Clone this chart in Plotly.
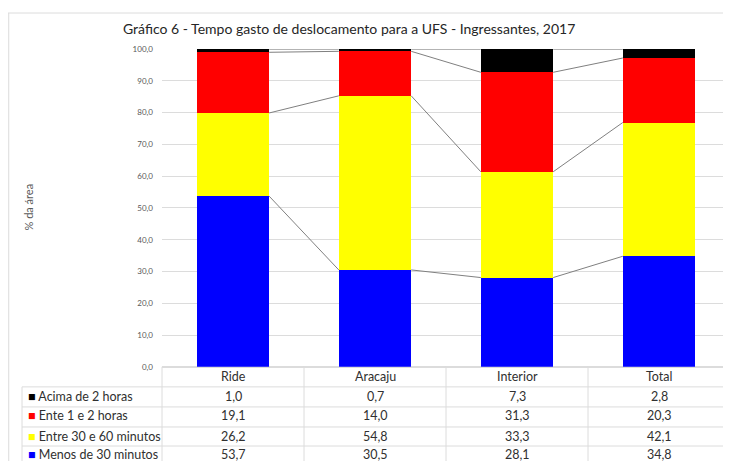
import plotly.graph_objects as go

# the page puts the figure 8px in from the left, ~13px down, and the capture squeezes y by ~0.976
OFF_X, OFF_Y, SY = 8, 13.3, 0.976
W, H = 731 - OFF_X, 460

categories = ["Ride", "Aracaju", "Interior", "Total"]
series_names = ["Menos de 30 minutos", "Entre 30 e 60 minutos", "Ente 1 e 2 horas", "Acima de 2 horas"]
menos_30 = [53.7, 30.5, 28.1, 34.8]
entre_30_60 = [26.2, 54.8, 33.3, 42.1]
entre_1_2h = [19.1, 14.0, 31.3, 20.3]
acima_2h = [1.0, 0.7, 7.3, 2.8]
series_values = [menos_30, entre_30_60, entre_1_2h, acima_2h]
colors = ["#0000FF", "#FFFF00", "#FF0000", "#000000"]

bar_w = 0.51
x_idx = list(range(len(categories)))

fig = go.Figure()
for name, vals, c in zip(series_names, series_values, colors):
    fig.add_trace(go.Bar(x=x_idx, y=vals, name=name, width=bar_w,
                         marker=dict(color=c, line=dict(width=0)), showlegend=False))

# series lines between the bars (Excel style)
cum = [0.0] * len(categories)
for vals in series_values:
    cum = [a + b for a, b in zip(cum, vals)]
    for i in range(len(categories) - 1):
        fig.add_trace(go.Scatter(x=[i + bar_w / 2, i + 1 - bar_w / 2], y=[cum[i], cum[i + 1]],
                                 mode="lines", line=dict(color="#808080", width=1),
                                 showlegend=False, hoverinfo="skip"))


def px(x):
    return min(max((x - OFF_X) / W, 0), 1)


def py(y):
    return min(max(1 - (y / SY - OFF_Y) / H, 0), 1)


GRID = "#dcdcdc"
font = "Lato, 'Open Sans', sans-serif"
shapes = []
annotations = []

# outer frame
shapes.append(dict(type="line", xref="paper", yref="paper", x0=0, x1=1, y0=py(13), y1=py(13),
                   line=dict(color=GRID, width=1)))
shapes.append(dict(type="line", xref="paper", yref="paper", x0=0.001, x1=0.001, y0=py(13), y1=0,
                   line=dict(color=GRID, width=1)))

# data table lines
col_edges = [162, 304, 446, 588, 730]
for xe in col_edges:
    shapes.append(dict(type="line", xref="paper", yref="paper", x0=px(xe), x1=px(xe), y0=py(366), y1=0,
                       line=dict(color=GRID, width=1)))
shapes.append(dict(type="line", xref="paper", yref="paper", x0=px(22), x1=px(22), y0=py(386), y1=0,
                   line=dict(color=GRID, width=1)))
for ye in [386, 406, 426, 445]:
    shapes.append(dict(type="line", xref="paper", yref="paper", x0=px(22), x1=px(730), y0=py(ye), y1=py(ye),
                       line=dict(color=GRID, width=1)))

tfont = dict(family=font, size=12.5, color="#303030")
for i, cat in enumerate(categories):
    annotations.append(dict(x=i, xref="x", y=py(376), yref="paper", text=cat, showarrow=False,
                            font=tfont, xanchor="center", yanchor="middle"))

row_order = [3, 2, 1, 0]
row_y = [395.5, 415, 435.5, 453]
for r, yy in zip(row_order, row_y):
    annotations.append(dict(x=px(26), xref="paper", y=py(yy), yref="paper",
                            text=f"<span style='color:{colors[r]}'>■</span> {series_names[r]}",
                            showarrow=False, font=tfont, xanchor="left", yanchor="middle"))
    for i, v in enumerate(series_values[r]):
        annotations.append(dict(x=i, xref="x", y=py(yy), yref="paper", text=f"{v:.1f}".replace(".", ","),
                                showarrow=False, font=tfont, xanchor="center", yanchor="middle"))

# title and y-axis title
annotations.append(dict(x=px(349), xref="paper", y=py(28), yref="paper",
                        text="Gráfico 6 - Tempo gasto de deslocamento para a UFS - Ingressantes, 2017",
                        showarrow=False, font=dict(family=font, size=14, color="#262626"),
                        xanchor="center", yanchor="middle"))
annotations.append(dict(x=px(28), xref="paper", y=py(207), yref="paper", text="% da área", textangle=-90,
                        showarrow=False, font=dict(family=font, size=11, color="#595959"),
                        xanchor="center", yanchor="middle"))

fig.update_layout(
    width=W, height=H,
    margin=dict(l=0, r=0, t=0, b=0),
    paper_bgcolor="white", plot_bgcolor="white",
    barmode="stack", separators=",.",
    shapes=shapes, annotations=annotations,
    xaxis=dict(domain=[px(162), px(730)], range=[-0.5, 3.5], showticklabels=False,
               showgrid=False, zeroline=False, fixedrange=True),
    yaxis=dict(domain=[py(366), py(49)], range=[0, 100], dtick=10, tickformat=".1f",
               showgrid=True, gridcolor=GRID, gridwidth=1, zeroline=True, zerolinecolor=GRID,
               tickfont=dict(family=font, size=8, color="#595959"), ticks="", ticklabelstandoff=8),
    font=dict(family=font),
)

fig.write_html("out.html")
